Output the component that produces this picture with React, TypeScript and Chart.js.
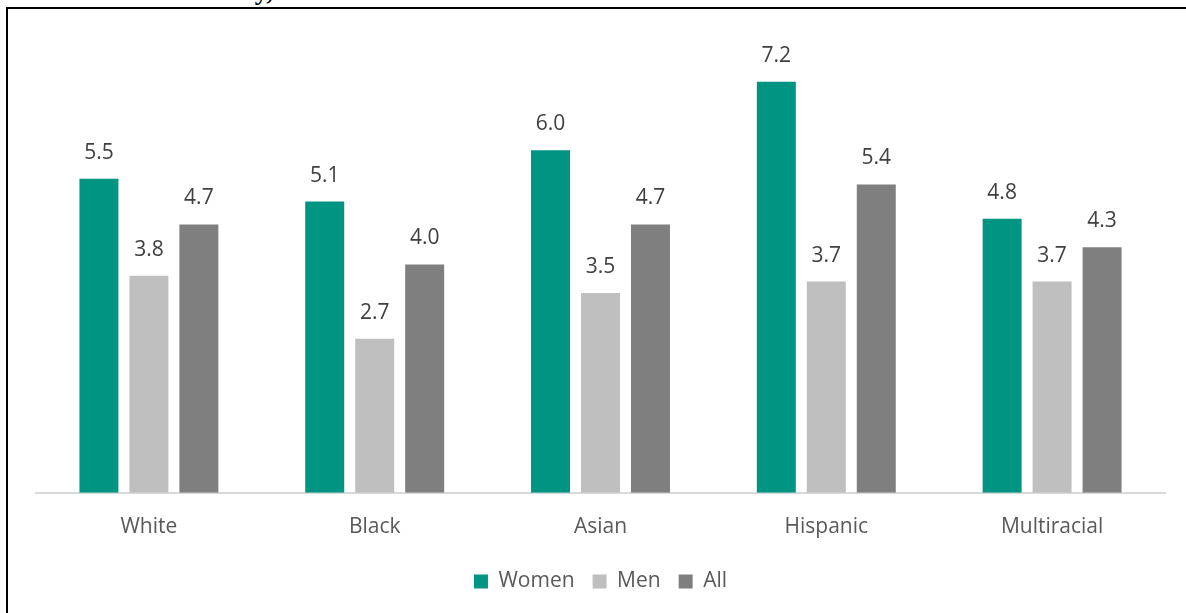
import React, { useEffect, useRef } from "react";
import { Chart, registerables } from "chart.js";

Chart.register(...registerables);

const categories = ["White", "Black", "Asian", "Hispanic", "Multiracial"];
const women = [5.5, 5.1, 6.0, 7.2, 4.8];
const men = [3.8, 2.7, 3.5, 3.7, 3.7];
const all = [4.7, 4.0, 4.7, 5.4, 4.3];
const seriesNames = ["Women", "Men", "All"];
const seriesColors = ["#009482", "#BFBFBF", "#7F7F7F"];
const titleText = "and Race and Ethnicity, 2023";

const FONT = "'Open Sans', 'Noto Sans', sans-serif";
const LEGEND_SHIFT = -9;

const valueLabels = {
  id: "valueLabels",
  beforeLayout(chart: any) {
    const lg = chart.legend;
    if (lg && !lg._shiftPatched) {
      const origDraw = lg.draw;
      lg.draw = function (...args: any[]) {
        const ctx = this.ctx;
        ctx.save();
        ctx.translate(0, LEGEND_SHIFT);
        origDraw.apply(this, args);
        ctx.restore();
      };
      lg._shiftPatched = true;
    }
  },
  afterDatasetsDraw(chart: any) {
    const ctx = chart.ctx;
    ctx.save();
    ctx.font = `21px ${FONT}`;
    ctx.fillStyle = "#404040";
    ctx.textAlign = "center";
    ctx.textBaseline = "middle";
    chart.data.datasets.forEach((ds: any, i: number) => {
      const meta = chart.getDatasetMeta(i);
      meta.data.forEach((el: any, j: number) => {
        ctx.fillText(Number(ds.data[j]).toFixed(1), el.x, el.y - 26);
      });
    });
    ctx.restore();
  },
};

export default function App() {
  const ref = useRef<HTMLCanvasElement>(null);
  useEffect(() => {
    if (!ref.current) return;
    const chart = new Chart(ref.current, {
      type: "bar",
      data: {
        labels: categories,
        datasets: [women, men, all].map((d, i) => ({
          label: seriesNames[i],
          data: d,
          backgroundColor: seriesColors[i],
          borderWidth: 0,
          categoryPercentage: 0.664,
          barPercentage: 0.78,
        })),
      },
      options: {
        responsive: false,
        animation: false,
        layout: { padding: { left: 36, right: 21, top: 36, bottom: 2 } },
        plugins: {
          tooltip: { enabled: false },
          legend: {
            position: "bottom",
            labels: {
              boxWidth: 14,
              boxHeight: 14,
              padding: 18,
              color: "#595959",
              font: { size: 21, family: FONT },
            },
          },
        },
        scales: {
          x: {
            grid: { display: false, drawTicks: false },
            border: { display: true, color: "#D9D9D9", width: 2 },
            ticks: {
              color: "#595959",
              font: { size: 21, family: FONT },
              padding: 22,
            },
          },
          y: {
            display: false,
            min: 0,
            max: 8,
          },
        },
      },
      plugins: [valueLabels],
    });
    return () => chart.destroy();
  }, []);

  return (
    <div
      style={{
        position: "fixed",
        left: 0,
        top: 0,
        width: 1186,
        height: 613,
        overflow: "hidden",
        background: "#fff",
      }}
    >
      <div
        style={{
          position: "absolute",
          left: 7,
          top: -21,
          fontFamily: "'Liberation Serif', 'DejaVu Serif', serif",
          fontWeight: "bold",
          fontSize: 26,
          lineHeight: "26px",
          color: "#000",
          whiteSpace: "nowrap",
        }}
      >
        {titleText}
      </div>
      <div
        style={{
          position: "absolute",
          left: 6,
          top: 7,
          width: 1200,
          height: 620,
          borderTop: "2px solid #000",
          borderLeft: "2px solid #000",
        }}
      />
      <canvas
        ref={ref}
        width={1186}
        height={613}
        style={{ position: "absolute", left: 0, top: 0 }}
      />
    </div>
  );
}
